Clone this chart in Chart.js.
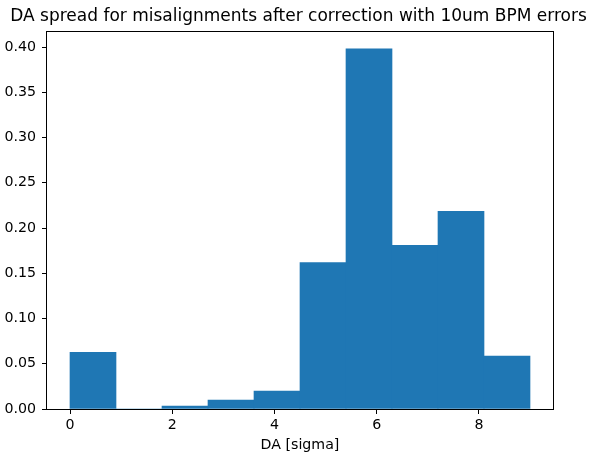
<!DOCTYPE html>
<html><head><meta charset="utf-8">
<script src="https://cdn.jsdelivr.net/npm/chart.js@4"></script>
<style>html,body{margin:0;padding:0;background:#fff}</style>
</head><body>
<canvas id="c" width="590" height="452" style="width:590px;height:452px;display:block"></canvas>
<script>
// Histogram bins (width 0.9, edges 0..9) and density values
const binCenters = [0.45, 1.35, 2.25, 3.15, 4.05, 4.95, 5.85, 6.75, 7.65, 8.55];
const density = [0.0627, 0, 0.0033, 0.0099, 0.0199, 0.1617, 0.398, 0.1809, 0.2185, 0.0586];
const xTicks = [0, 2, 4, 6, 8];
const yTicks = [0, 0.05, 0.10, 0.15, 0.20, 0.25, 0.30, 0.35, 0.40];
const titleText = 'DA spread for misalignments after correction with 10um BPM errors';
const xLabel = 'DA [sigma]';

Chart.defaults.font.family = 'DejaVu Sans';
Chart.defaults.color = '#000';

// Frame around the axes and a title centred over the axes (as matplotlib does)
const framePlugin = {
  id: 'frame',
  afterDraw(chart) {
    const a = chart.chartArea, ctx = chart.ctx;
    ctx.save();
    ctx.strokeStyle = '#000';
    ctx.lineWidth = 1;
    ctx.strokeRect(Math.round(a.left) - 0.5, Math.round(a.top) - 0.5,
                   Math.round(a.right - a.left) + 1, Math.round(a.bottom - a.top) + 1);
    ctx.fillStyle = '#000';
    ctx.font = '17px "DejaVu Sans"';
    ctx.textAlign = 'center';
    ctx.textBaseline = 'alphabetic';
    ctx.fillText(titleText, (a.left + a.right) / 2 - 1.5, a.top - 11);
    ctx.restore();
  }
};

new Chart(document.getElementById('c'), {
  type: 'bar',
  data: {
    datasets: [{
      data: binCenters.map((x, i) => ({x: x, y: density[i]})),
      backgroundColor: '#1f77b4',
      borderWidth: 0,
      barPercentage: 1,
      categoryPercentage: 1
    }]
  },
  options: {
    responsive: false,
    animation: false,
    devicePixelRatio: 1,
    layout: {padding: {left: 0, right: 37, top: 32, bottom: 0}},
    plugins: {
      legend: {display: false},
      tooltip: {enabled: false},
      title: {display: false}
    },
    scales: {
      x: {
        type: 'linear',
        min: -0.45,
        max: 9.45,
        offset: false,
        afterFit(s) { s.height = 43; },
        afterBuildTicks(s) { s.ticks = xTicks.map(v => ({value: v})); },
        ticks: {font: {size: 14.2}, color: '#000', padding: 3, callback: v => String(v)},
        grid: {display: true, offset: false, drawOnChartArea: false, drawTicks: true, tickLength: 5, color: '#000', lineWidth: 1},
        border: {display: false},
        title: {display: true, text: xLabel, color: '#000', font: {size: 14.2}, padding: {top: -2, bottom: -2}}
      },
      y: {
        type: 'linear',
        min: 0,
        max: 0.4166,
        afterFit(s) { s.width = 47; },
        afterBuildTicks(s) { s.ticks = yTicks.map(v => ({value: v})); },
        ticks: {font: {size: 14.2}, color: '#000', padding: 6, callback: v => v.toFixed(2)},
        grid: {display: true, drawOnChartArea: false, drawTicks: true, tickLength: 5, color: '#000', lineWidth: 1},
        border: {display: false}
      }
    }
  },
  plugins: [framePlugin]
});
</script>
</body></html>
